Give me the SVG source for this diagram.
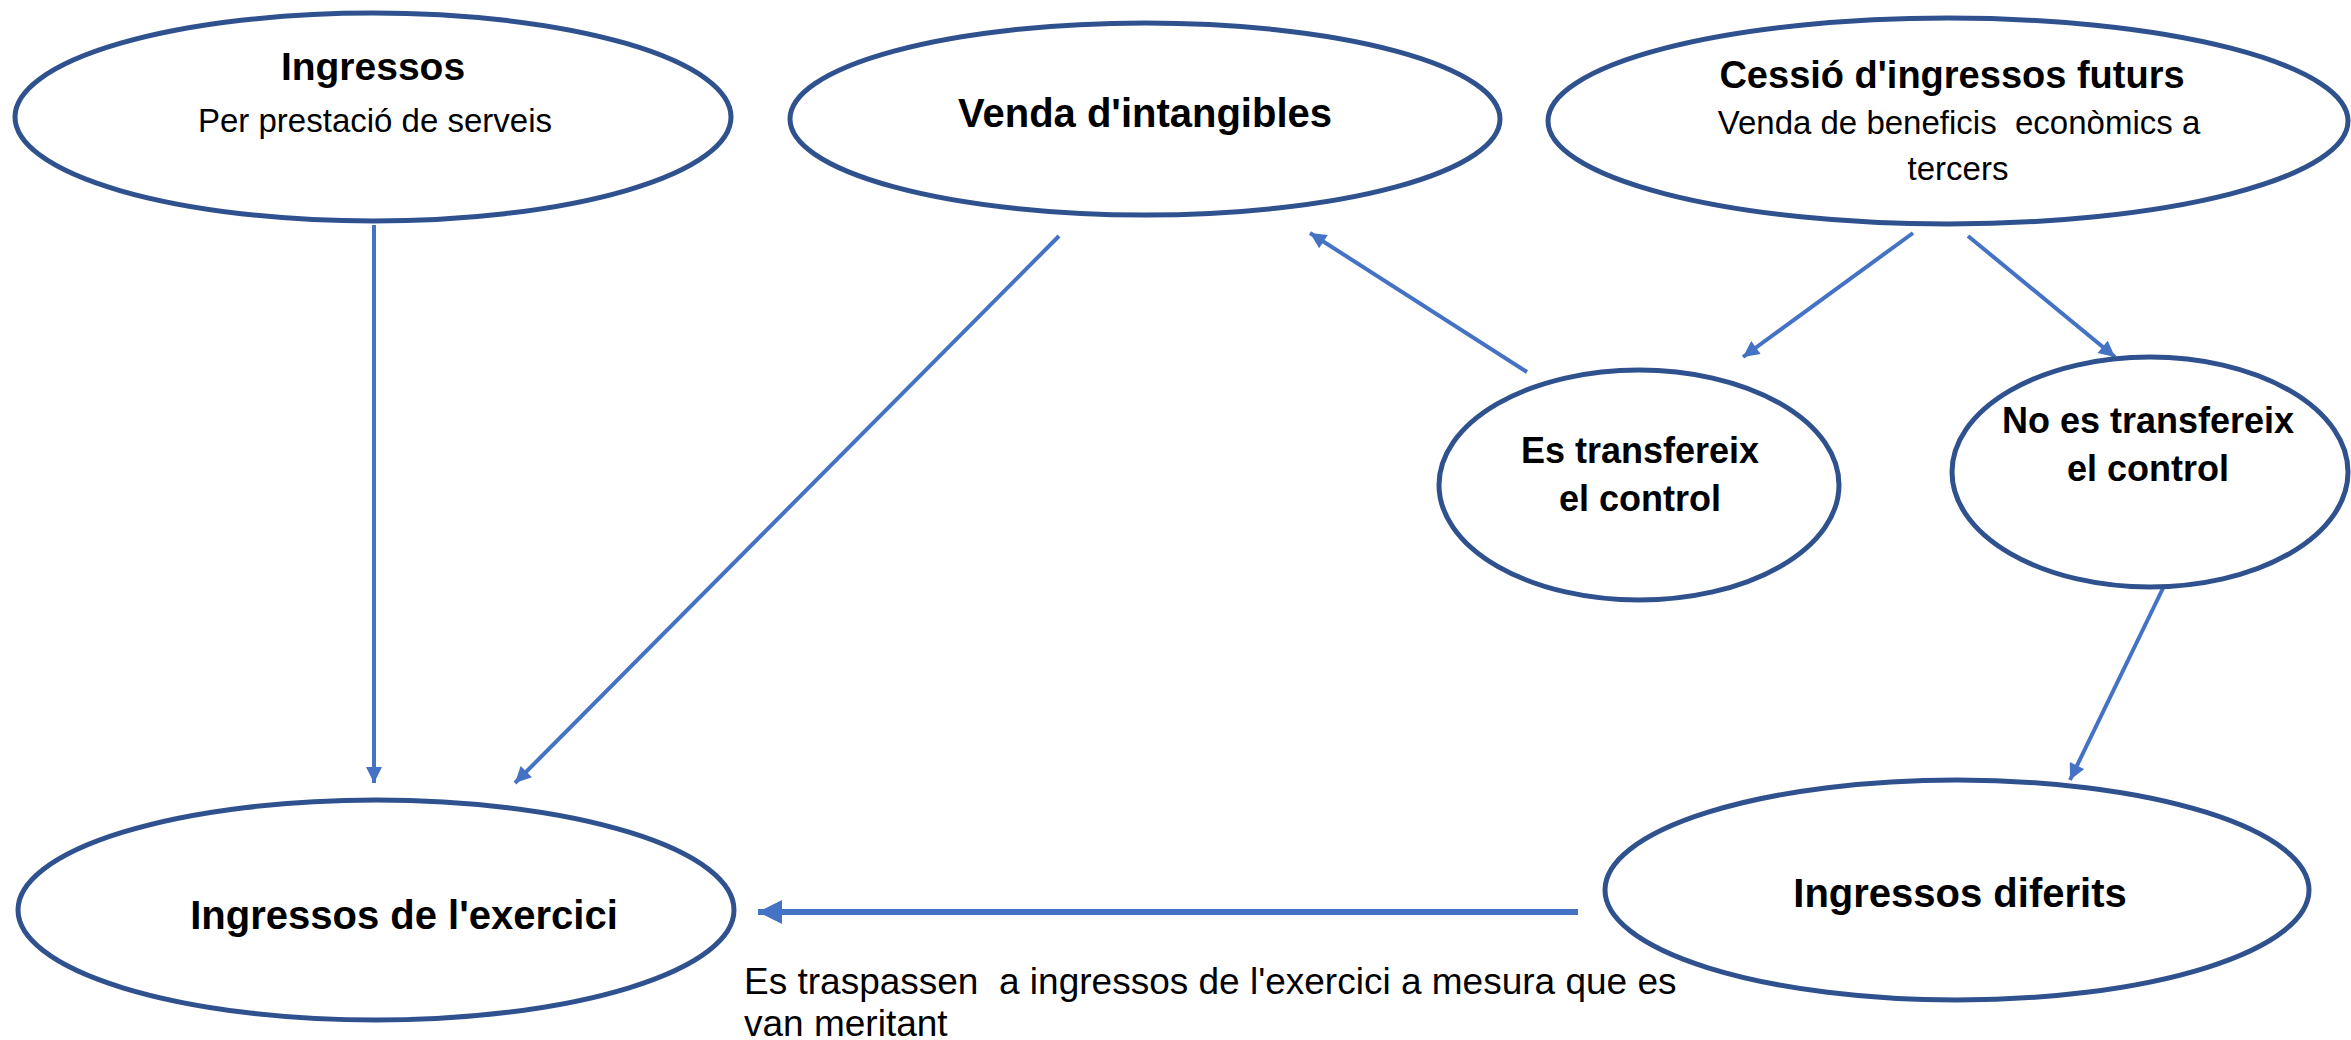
<svg xmlns="http://www.w3.org/2000/svg" width="2351" height="1040" viewBox="0 0 2351 1040">
<style>
.node{fill:#fff;stroke:#2F528F;stroke-width:5}
.t{font-family:"Liberation Sans",Arial,sans-serif;font-weight:bold;fill:#000;text-anchor:middle}
.s{font-family:"Liberation Sans",Arial,sans-serif;fill:#000;text-anchor:middle;font-size:33px}
.c{stroke:#4472C4;stroke-width:4;fill:none;marker-end:url(#ah)}
.lbl{font-family:"Liberation Sans",Arial,sans-serif;fill:#000;font-size:37px}
</style>
<defs>
<marker id="ah" viewBox="0 0 10 10" refX="10" refY="5" markerWidth="4.5" markerHeight="4" orient="auto" markerUnits="strokeWidth">
<path d="M0,0 L10,5 L0,10 z" fill="#4472C4"/>
</marker>
</defs>
<rect width="2351" height="1040" fill="#fff"/>
<g id="connectors">
<line class="c" x1="374" y1="225" x2="374" y2="783"/>
<line class="c" x1="1059" y1="236" x2="515" y2="783"/>
<line class="c" x1="1527" y1="372" x2="1310" y2="233"/>
<line class="c" x1="1913" y1="233" x2="1743" y2="357"/>
<line class="c" x1="1968" y1="236" x2="2115" y2="357"/>
<line class="c" x1="2166" y1="582" x2="2070" y2="780"/>
<line class="c" style="stroke-width:6" x1="1578" y1="912" x2="758" y2="912"/>
</g>
<g id="ingressos">
<ellipse class="node" cx="373" cy="117" rx="358" ry="104"/>
<text class="t" x="373" y="80" font-size="39">Ingressos</text>
<text class="s" x="375" y="132">Per prestació de serveis</text>
</g>
<g id="venda">
<ellipse class="node" cx="1145" cy="119" rx="355" ry="96"/>
<text class="t" x="1145" y="127" font-size="40">Venda d'intangibles</text>
</g>
<g id="cessio">
<ellipse class="node" cx="1948" cy="121" rx="400" ry="103"/>
<text class="t" x="1952" y="88" font-size="38">Cessió d'ingressos futurs</text>
<text class="s" x="1959" y="134" xml:space="preserve">Venda de beneficis  econòmics a</text>
<text class="s" x="1958" y="180">tercers</text>
</g>
<g id="es-transfereix">
<ellipse class="node" cx="1639" cy="485" rx="200" ry="115"/>
<text class="t" x="1640" y="463" font-size="36">Es transfereix</text>
<text class="t" x="1640" y="511" font-size="36">el control</text>
</g>
<g id="no-es-transfereix">
<ellipse class="node" cx="2150" cy="472" rx="198" ry="115"/>
<text class="t" x="2148" y="433" font-size="36">No es transfereix</text>
<text class="t" x="2148" y="481" font-size="36">el control</text>
</g>
<g id="ingressos-exercici">
<ellipse class="node" cx="376" cy="910" rx="358" ry="110"/>
<text class="t" x="404" y="929" font-size="40">Ingressos de l'exercici</text>
</g>
<g id="ingressos-diferits">
<ellipse class="node" cx="1957" cy="890" rx="352" ry="110"/>
<text class="t" x="1960" y="907" font-size="40">Ingressos diferits</text>
</g>
<g id="label">
<text class="lbl" x="744" y="994" xml:space="preserve">Es traspassen  a ingressos de l'exercici a mesura que es</text>
<text class="lbl" x="744" y="1036">van meritant</text>
</g>
</svg>
